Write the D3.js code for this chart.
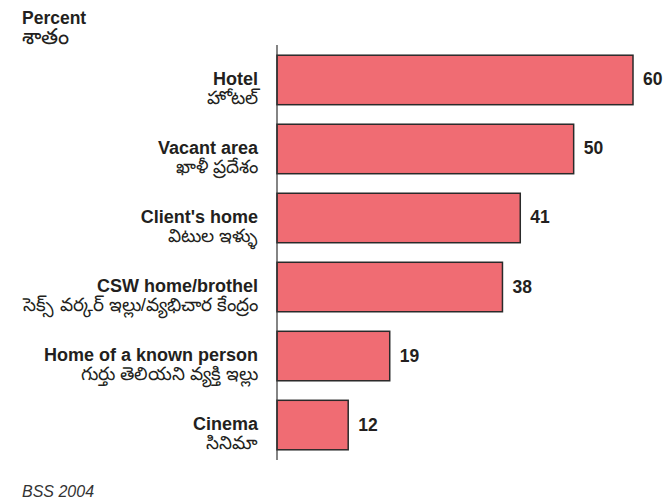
<!DOCTYPE html>
<html>
<head>
<meta charset="utf-8">
<script src="https://cdn.jsdelivr.net/npm/d3@7"></script>
<style>
  body { margin: 0; background: #fff; }
  svg { font-family: "Liberation Sans", Arial, sans-serif; }
</style>
</head>
<body>
<svg id="chart" width="664" height="502"></svg>
<script>

// Data
const categories = ["Hotel", "Vacant area", "Client's home", "CSW home/brothel", "Home of a known person", "Cinema"];
const teluguLabels = ["హోటల్", "ఖాళీ ప్రదేశం", "విటుల ఇళ్ళు", "సెక్స్ వర్కర్ ఇల్లు/వ్యభిచార కేంద్రం", "గుర్తు తెలియని వ్యక్తి ఇల్లు", "సినిమా"];
const values = [60, 50, 41, 38, 19, 12];

const svg = d3.select("#chart");

// Scales
const x = d3.scaleLinear()
    .domain([0, 60])
    .range([277, 633]);
const y = d3.scaleBand()
    .domain(categories)
    .range([45, 460])
    .paddingInner(0.283)
    .paddingOuter(0.148);

// Bars
svg.selectAll(".bar")
    .data(values)
    .enter()
    .append("rect")
    .attr("class", "bar")
    .attr("x", x(0))
    .attr("y", (d, i) => y(categories[i]))
    .attr("width", (d) => x(d) - x(0))
    .attr("height", y.bandwidth())
    .style("fill", "#f06c73")
    .style("stroke", "#2a2a2a")
    .style("stroke-width", 1.5);

// Value labels
svg.selectAll(".value")
    .data(values)
    .enter()
    .append("text")
    .attr("class", "value")
    .attr("x", (d) => x(d) + 10)
    .attr("y", (d, i) => y(categories[i]) + y.bandwidth()/2 + 5.5)
    .text((d) => d)
    .style("font-size", "17.5px")
    .style("font-weight", "bold")
    .style("fill", "#231f20");

// Axis line
svg.append("line")
    .attr("x1", x(0)).attr("x2", x(0))
    .attr("y1", 45).attr("y2", 460)
    .style("stroke", "#333")
    .style("stroke-width", 1.2);

// Category labels (English + Telugu)
const labels = svg.selectAll(".cat")
    .data(categories)
    .enter()
    .append("g")
    .attr("class", "cat")
    .attr("transform", (d) => `translate(258, ${y(d) + y.bandwidth()/2})`);
labels.append("text")
    .attr("y", 5)
    .style("text-anchor", "end")
    .style("font-size", "18px")
    .style("font-weight", "bold")
    .style("fill", "#231f20")
    .text((d) => d);
labels.append("text")
    .attr("y", 24)
    .style("text-anchor", "end")
    .style("font-size", "18.5px")
    .style("fill", "#231f20")
    .text((d, i) => teluguLabels[i]);

// Unit title
svg.append("text")
    .attr("x", 22).attr("y", 24)
    .style("font-size", "17.5px")
    .style("font-weight", "bold")
    .style("fill", "#231f20")
    .text("Percent");
svg.append("text")
    .attr("x", 22).attr("y", 44)
    .style("font-size", "22px")
    .style("fill", "#231f20")
    .text("శాతం");

// Source
svg.append("text")
    .attr("x", 22).attr("y", 497)
    .style("font-size", "16px")
    .style("font-style", "italic")
    .style("fill", "#333")
    .text("BSS 2004");

</script>
</body>
</html>
